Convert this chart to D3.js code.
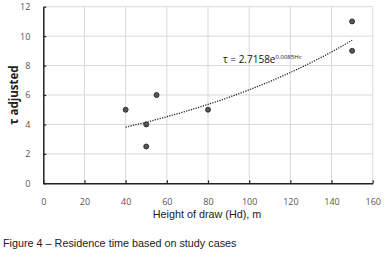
<!DOCTYPE html>
<html>
<head>
<meta charset="utf-8">
<script src="https://cdn.jsdelivr.net/npm/d3@7"></script>
<style>
  body { margin: 0; background: #fff; }
  svg { display: block; }
</style>
</head>
<body>
<div id="chart"></div>
<script>
// study cases: height of draw (m) vs adjusted residence time
var heights = [40, 50, 50, 55, 80, 150, 150];
var tau_values = [5, 4, 2.5, 6, 5, 11, 9];
var x_ticks = [0, 20, 40, 60, 80, 100, 120, 140, 160];
var y_ticks = [0, 2, 4, 6, 8, 10, 12];
// exponential trendline tau = a * e^(b * Hd), drawn over the data range
var trend_a = 2.7158;
var trend_b = 0.0085;
var trend_range = [40, 150];

var width = 386, height = 254;
var plot_left = 43.3, plot_right = 372.7, plot_top = 6.7, plot_bottom = 183.3;

var svg = d3.select("#chart").append("svg")
    .attr("width", width)
    .attr("height", height);

var x = d3.scaleLinear().domain([0, 160]).range([plot_left, plot_right]);
var y = d3.scaleLinear().domain([0, 12]).range([plot_bottom, plot_top]);

// grid
svg.append("g")
    .selectAll("line")
    .data(x_ticks.slice(1))
    .enter().append("line")
        .attr("x1", d => x(d)).attr("x2", d => x(d))
        .attr("y1", plot_top).attr("y2", plot_bottom)
        .attr("stroke", "#d9d9d9")
        .attr("stroke-width", 1);

svg.append("g")
    .selectAll("line")
    .data(y_ticks.slice(1))
    .enter().append("line")
        .attr("x1", plot_left).attr("x2", plot_right)
        .attr("y1", d => y(d)).attr("y2", d => y(d))
        .attr("stroke", "#d9d9d9")
        .attr("stroke-width", 1);

// axes
var x_axis = svg.append("g")
    .attr("transform", "translate(0," + plot_bottom + ")")
    .call(d3.axisBottom(x).tickValues(x_ticks).tickSize(3).tickSizeOuter(0).tickPadding(12));

var y_axis = svg.append("g")
    .attr("transform", "translate(" + plot_left + ",0)")
    .call(d3.axisLeft(y).tickValues(y_ticks).tickSize(3).tickSizeOuter(0).tickPadding(10));

[x_axis, y_axis].forEach(function(ax) {
    ax.select(".domain").attr("stroke", "#222").attr("stroke-width", 1.5);
    ax.selectAll(".tick line").attr("stroke", "#222").attr("stroke-width", 1.2);
    ax.selectAll(".tick text")
        .attr("fill", "#555")
        .attr("font-family", "'Open Sans', sans-serif")
        .attr("font-size", 9);
});
y_axis.selectAll(".tick line").attr("x2", 3);
x_axis.selectAll(".tick line").attr("y2", -3);

// trendline
var trend_x = d3.range(trend_range[0], trend_range[1] + 0.5, 1);
var trend_line = d3.line()
    .x(d => x(d))
    .y(d => y(trend_a * Math.exp(trend_b * d)));

svg.append("path")
    .datum(trend_x)
    .attr("d", trend_line)
    .attr("fill", "none")
    .attr("stroke", "#222")
    .attr("stroke-width", 1.3)
    .attr("stroke-dasharray", "1.2,1.3");

// points
svg.append("g")
    .selectAll("circle")
    .data(heights)
    .enter().append("circle")
        .attr("cx", d => x(d))
        .attr("cy", (d, i) => y(tau_values[i]))
        .attr("r", 2.5)
        .attr("fill", "#555")
        .attr("stroke", "#2a2a2a")
        .attr("stroke-width", 0.9);

// equation label
var eq = svg.append("text")
    .attr("x", 223)
    .attr("y", 63)
    .attr("font-family", "'Open Sans', sans-serif")
    .attr("font-size", 10)
    .attr("fill", "#111");
eq.append("tspan").text("τ = " + trend_a + "e");
eq.append("tspan")
    .attr("font-size", 6)
    .attr("dy", -4)
    .text(trend_b + "Hc");

// axis titles
svg.append("text")
    .attr("transform", "translate(18,95) rotate(-90)")
    .attr("text-anchor", "middle")
    .attr("font-family", "'Open Sans', sans-serif")
    .attr("font-weight", "bold")
    .attr("font-size", 11.5)
    .attr("fill", "#222")
    .text("τ adjusted");

svg.append("text")
    .attr("x", 207)
    .attr("y", 218)
    .attr("text-anchor", "middle")
    .attr("font-family", "'Liberation Sans', Arial, sans-serif")
    .attr("font-size", 10.8)
    .attr("fill", "#222")
    .text("Height of draw (Hd), m");

svg.append("text")
    .attr("x", 3)
    .attr("y", 247)
    .attr("font-family", "'Liberation Sans', Arial, sans-serif")
    .attr("font-size", 10.8)
    .attr("fill", "#222")
    .text("Figure 4 \u2013 Residence time based on study cases");
</script>
</body>
</html>
